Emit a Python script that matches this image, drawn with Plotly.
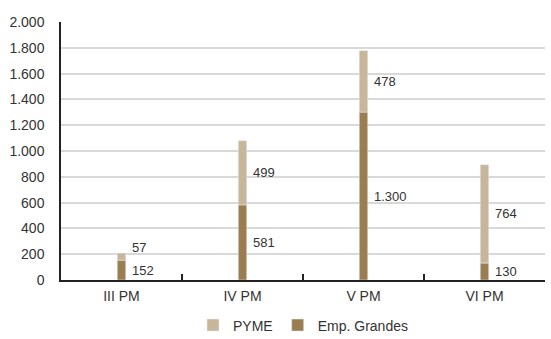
import plotly.graph_objects as go

# Periods and stacked values
periods = ["III PM", "IV PM", "V PM", "VI PM"]
emp_grandes = [152, 581, 1300, 130]
pyme = [57, 499, 478, 764]
y_ticks = [0, 200, 400, 600, 800, 1000, 1200, 1400, 1600, 1800, 2000]

col_pyme = "#c8b69b"
col_emp = "#9a7e50"
txt = "#333333"
font_family = "Liberation Sans"

fig = go.Figure()
fig.add_trace(go.Bar(
    name="PYME", x=periods, y=pyme, base=emp_grandes,
    marker_color=col_pyme, width=0.07,
))
fig.add_trace(go.Bar(
    name="Emp. Grandes", x=periods, y=emp_grandes,
    marker_color=col_emp, width=0.07,
))

def fmt(v):
    return f"{v:,}".replace(",", ".")

# Value labels beside each segment
for i, p in enumerate(periods):
    fig.add_annotation(x=p, y=emp_grandes[i] / 2, text=fmt(emp_grandes[i]),
                       showarrow=False, xanchor="left", xshift=8,
                       font=dict(size=13, color=txt, family=font_family))
    shift = 9 if pyme[i] < 150 else 0
    fig.add_annotation(x=p, y=emp_grandes[i] + pyme[i] / 2, text=fmt(pyme[i]),
                       showarrow=False, xanchor="left", xshift=8, yshift=shift,
                       font=dict(size=13, color=txt, family=font_family))

fig.update_layout(
    width=551, height=339,
    margin=dict(l=61, r=6, t=22, b=59, autoexpand=False),
    barmode="overlay",
    separators=",.",
    plot_bgcolor="white", paper_bgcolor="white",
    font=dict(family=font_family, size=14, color=txt),
    legend=dict(orientation="h", x=0.50, xanchor="center",
                yref="container", y=0.04, yanchor="middle",
                font=dict(size=14, color=txt), traceorder="normal",
                itemwidth=30),
    showlegend=True,
)
fig.update_xaxes(
    showline=True, linecolor="#222222", linewidth=1.5,
    ticks="inside", tickson="boundaries", ticklen=6, tickcolor="#222222",
    tickwidth=1.5, showgrid=False,
    tickfont=dict(size=14, color=txt), ticklabelstandoff=2,
)
fig.update_yaxes(
    range=[0, 2000], tickvals=y_ticks, tickformat=",d",
    showline=True, linecolor="#222222", linewidth=1.5,
    showgrid=True, gridcolor="#d9d9d9", gridwidth=1.5,
    zeroline=False, ticks="", ticklabelstandoff=12,
    tickfont=dict(size=14, color=txt),
)

fig.write_html("out.html")
